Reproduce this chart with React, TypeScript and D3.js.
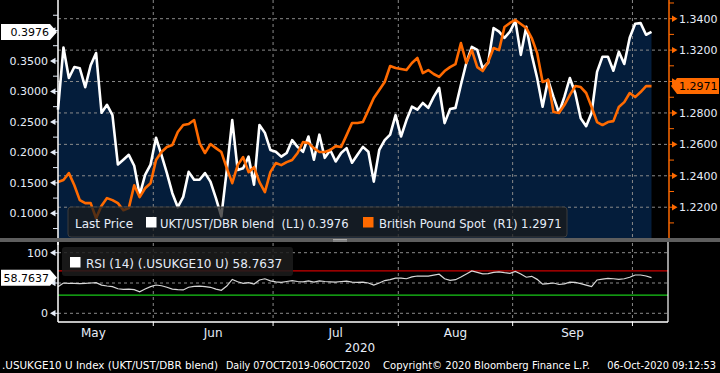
import React from 'react';
import * as d3 from 'd3';

// UKT/UST/DBR blend (L1)
const blendValues = [
  0.27, 0.372, 0.322, 0.34, 0.338, 0.307, 0.343, 0.363, 0.265, 0.278,
  0.261, 0.18, 0.188, 0.196, 0.178, 0.13, 0.163, 0.18, 0.224, 0.196,
  0.166, 0.133, 0.11, 0.127, 0.168, 0.155, 0.155, 0.166, 0.152, 0.125,
  0.095, 0.171, 0.253, 0.171, 0.174, 0.193, 0.147, 0.245, 0.232, 0.204,
  0.201, 0.193, 0.199, 0.22, 0.209, 0.201, 0.226, 0.188, 0.229, 0.191,
  0.204, 0.185, 0.199, 0.207, 0.183, 0.196, 0.209, 0.201, 0.152, 0.204,
  0.22, 0.229, 0.261, 0.226, 0.253, 0.275, 0.27, 0.281, 0.273, 0.291,
  0.306, 0.248, 0.271, 0.273, 0.311, 0.347, 0.373, 0.368, 0.338, 0.347,
  0.404, 0.398, 0.388, 0.398, 0.416, 0.36, 0.406, 0.36, 0.322, 0.275,
  0.319, 0.291, 0.265, 0.291, 0.322, 0.297, 0.256, 0.243, 0.265, 0.332,
  0.357, 0.357, 0.334, 0.365, 0.345, 0.388, 0.411, 0.412, 0.393, 0.3976,
];

// British Pound Spot (R1)
const gbpValues = [
  1.236, 1.2373, 1.2417, 1.234, 1.2245, 1.2226, 1.2226, 1.213, 1.221, 1.2258,
  1.2245, 1.2226, 1.2181, 1.2194, 1.234, 1.2264, 1.2321, 1.2353, 1.25, 1.2551,
  1.2583, 1.2596, 1.2679, 1.2723, 1.273, 1.2755, 1.2608, 1.2545, 1.2602, 1.2576,
  1.2551, 1.2449, 1.2353, 1.2468, 1.2519, 1.2423, 1.2455, 1.236, 1.2296, 1.2423,
  1.2481, 1.2468, 1.2487, 1.25, 1.2545, 1.2615, 1.2608, 1.2576, 1.2551, 1.2551,
  1.2564, 1.2589, 1.2583, 1.2659, 1.2736, 1.2736, 1.2742, 1.2818, 1.2895, 1.2946,
  1.2997, 1.3099, 1.3086, 1.308, 1.3073, 1.3118, 1.315, 1.3054, 1.3073, 1.3048,
  1.3029, 1.3067, 1.3092, 1.3111, 1.3245, 1.3118, 1.32, 1.3092, 1.3067, 1.3124,
  1.3213, 1.32, 1.3347, 1.3373, 1.3392, 1.3366, 1.3341, 1.3277, 1.3181, 1.2997,
  1.301, 1.2806, 1.28, 1.285, 1.2914, 1.2971, 1.2965, 1.2927, 1.2838, 1.2742,
  1.2723, 1.2742, 1.2748, 1.2838, 1.2869, 1.2927, 1.2901, 1.2933, 1.2971, 1.2971,
];

// RSI (14)
const rsiValues = [
  44, 50, 49.5, 49.5, 49, 49.5, 50, 50.5, 46.5, 45,
  44, 40.5, 39.6, 39.8, 39, 35.6, 40, 44, 46.7, 45.5,
  43, 40, 39, 38.5, 43, 44.5, 45, 44, 42.9, 40,
  38, 45, 56, 52, 49.5, 50.5, 48.3, 55, 57, 53.5,
  52, 51, 52.5, 54, 52.5, 52, 53.5, 51.5, 53.5, 52.5,
  52, 51.5, 52.5, 53, 51.5, 51, 51.5, 50, 46.5, 50,
  54, 55.5, 58, 58, 57, 60, 61.5, 61.5, 61.5, 63,
  64.5, 57, 54.5, 55.5, 60, 65, 70, 67.5, 65, 65.5,
  67.5, 68.5, 67, 66, 69, 65, 59.5, 61, 56, 48,
  49, 50, 47.5, 48.5, 51.5, 51, 49, 46.5, 44, 55,
  56.5, 57.5, 57, 56, 57, 59.5, 63.2, 63.2, 61.5, 58.7637,
];

const leftTicks = [0.1, 0.15, 0.2, 0.25, 0.3, 0.35, 0.4];
const rightTicks = [1.22, 1.24, 1.26, 1.28, 1.3, 1.32, 1.34];
const rsiTicks = [0, 50, 100];
const monthLabels = ['May', 'Jun', 'Jul', 'Aug', 'Sep'];

const W = 720;
const H = 373;
const FONT = 'DejaVu Sans, sans-serif';
const LABEL = '#e6edf8';
const ORANGE = '#ff6a00';
const NAVY = '#041d3b';
const GRID = '#8a8a8a';

const lastBlend = blendValues[blendValues.length - 1];
const lastGbp = gbpValues[gbpValues.length - 1];
const lastRsi = rsiValues[rsiValues.length - 1];

// business days 06 May 2020 .. 06 Oct 2020
const dates = d3.timeDay
  .range(new Date(2020, 4, 6), new Date(2020, 9, 7))
  .filter(d => d.getDay() !== 0 && d.getDay() !== 6);

const x = d3.scaleLinear().domain([0, dates.length - 1]).range([58, 651.5]);
const yL = d3.scaleLinear().domain([0.0595, 0.45]).range([238, 0]);
const yR = d3.scaleLinear().domain([1.2004, 1.3519]).range([238, 0]);
const yRsi = d3.scaleLinear().domain([0, 100]).range([313.3, 252.7]);

// month boundaries sit half way between last day of one month and first of next
const boundaries: number[] = [];
dates.forEach((d, i) => {
  if (i > 0 && d.getMonth() !== dates[i - 1].getMonth()) boundaries.push(i - 0.5);
});
const monthCenters = monthLabels.map((m, i) => {
  if (i === 0) return boundaries[0] - (boundaries[1] - boundaries[0]) / 2;
  return (boundaries[i - 1] + boundaries[i]) / 2;
});

// tick labels hidden behind the last-value tags are not drawn
const hidden = (py: number, tagY: number) => Math.abs(py - tagY) < 9;

const Arrow = ({ y, side, color }) => {
  if (side === 'left') {
    return <g>
      <line x1={52} x2={58} y1={y} y2={y} stroke={color} />
      <path d={`M50,${y} L55.5,${y - 3.2} L55.5,${y + 3.2} Z`} fill={color} />
    </g>;
  }
  return <g>
    <line x1={669} x2={675} y1={y} y2={y} stroke={color} />
    <path d={`M677.5,${y} L672,${y - 3.2} L672,${y + 3.2} Z`} fill={color} />
  </g>;
};

const ValueTag = ({ y, text, fill, side }) => {
  const h = 16;
  if (side === 'left') {
    return <g>
      <path d={`M1,${y - h / 2} L50,${y - h / 2} L57,${y} L50,${y + h / 2} L1,${y + h / 2} Z`} fill={fill} />
      <text x={49} y={y + 4} textAnchor="end" fill="#000" fontSize={11} fontFamily={FONT}>{text}</text>
    </g>;
  }
  return <g>
    <path d={`M671,${y} L677,${y - h / 2} L719,${y - h / 2} L719,${y + h / 2} L677,${y + h / 2} Z`} fill={fill} />
    <text x={679} y={y + 4} fill="#000" fontSize={11} fontFamily={FONT}>{text}</text>
  </g>;
};

const App = () => {
  const area = d3.area<number>().x((d, i) => x(i)).y0(238).y1(d => yL(d));
  const blendLine = d3.line<number>().x((d, i) => x(i)).y(d => yL(d));
  const gbpLine = d3.line<number>().x((d, i) => x(i)).y(d => yR(d));
  const rsiLine = d3.line<number>().x((d, i) => x(i)).y(d => yRsi(d));

  const leftMinor = d3.range(0.075, 0.45, 0.05);
  const rightMinor = d3.range(1.21, 1.351, 0.02);

  return (
    <svg width={W} height={H} style={{ position: 'absolute', left: 0, top: 0, background: '#000' }}>
      <rect width={W} height={H} fill="#000" />

      {/* main panel */}
      <path d={area(blendValues)} fill={NAVY} />
      {rightTicks.map(t => (
        <line key={'gh' + t} x1={58} x2={669} y1={yR(t)} y2={yR(t)} stroke={GRID} strokeDasharray="3,3" />
      ))}
      {boundaries.map(b => (
        <line key={'gv' + b} x1={x(b)} x2={x(b)} y1={0} y2={238} stroke={GRID} strokeDasharray="3,3" />
      ))}
      <path d={blendLine(blendValues)} fill="none" stroke="#fff" strokeWidth={2.6} strokeLinejoin="round" />
      <path d={gbpLine(gbpValues)} fill="none" stroke={ORANGE} strokeWidth={2.6} strokeLinejoin="round" />

      {/* left axis */}
      <line x1={58} x2={58} y1={0} y2={245} stroke="#fff" strokeWidth={1.5} />
      {leftMinor.map(t => <line key={'lm' + t} x1={53} x2={58} y1={yL(t)} y2={yL(t)} stroke={LABEL} />)}
      {leftTicks.map(t => (
        <g key={'lt' + t}>
          <Arrow y={yL(t)} side="left" color={LABEL} />
          {!hidden(yL(t), yL(lastBlend)) &&
            <text x={48} y={yL(t) + 4} textAnchor="end" fill={LABEL} fontSize={11} fontFamily={FONT}>{t.toFixed(4)}</text>}
        </g>
      ))}

      {/* right axis */}
      <line x1={669} x2={669} y1={0} y2={238} stroke={ORANGE} strokeWidth={1.5} />
      {rightMinor.map(t => <line key={'rm' + t} x1={669} x2={674} y1={yR(t)} y2={yR(t)} stroke={ORANGE} />)}
      {rightTicks.map(t => (
        <g key={'rt' + t}>
          <Arrow y={yR(t)} side="right" color={ORANGE} />
          {!hidden(yR(t), yR(lastGbp)) &&
            <text x={679} y={yR(t) + 4} fill={LABEL} fontSize={11} fontFamily={FONT}>{t.toFixed(4)}</text>}
        </g>
      ))}

      {/* legend */}
      <rect x={68} y={207} width={499} height={30} rx={3} fill="#1a1a1a" fillOpacity={0.72} stroke="#3c3c3c" />
      <text x={75} y={227.5} fill={LABEL} fontSize={12} fontFamily={FONT}>Last Price</text>
      <rect x={146} y={217} width={10.5} height={10.5} fill="#fff" />
      <text x={160} y={227.5} fill={LABEL} fontSize={11.6} fontFamily={FONT} xmlSpace="preserve">UKT/UST/DBR blend  (L1) 0.3976</text>
      <rect x={363} y={217} width={10.5} height={10.5} fill={ORANGE} />
      <text x={379} y={227.5} fill={LABEL} fontSize={11.6} fontFamily={FONT} xmlSpace="preserve">British Pound Spot  (R1) 1.2971</text>

      {/* panel separator */}
      <rect x={0} y={238} width={W} height={4} fill="#5e5e5e" />
      <line x1={333} x2={347} y1={239.5} y2={239.5} stroke="#bbb" strokeWidth={0.8} />
      <line x1={333} x2={347} y1={241} y2={241} stroke="#bbb" strokeWidth={0.8} />

      {/* RSI panel */}
      {rsiTicks.map(t => (
        <line key={'rg' + t} x1={58} x2={668} y1={yRsi(t)} y2={yRsi(t)} stroke={GRID} strokeDasharray="3,3" />
      ))}
      {boundaries.map(b => (
        <line key={'rv' + b} x1={x(b)} x2={x(b)} y1={243} y2={322} stroke={GRID} strokeDasharray="3,3" />
      ))}
      <line x1={58} x2={668} y1={yRsi(70)} y2={yRsi(70)} stroke="#cc0000" strokeWidth={1.3} />
      <line x1={58} x2={668} y1={yRsi(30)} y2={yRsi(30)} stroke="#19c819" strokeWidth={1.3} />
      <path d={rsiLine(rsiValues)} fill="none" stroke="#d8d8d8" strokeWidth={1.2} />
      <line x1={58} x2={58} y1={242} y2={322} stroke="#fff" strokeWidth={1.5} />
      <line x1={58} x2={668} y1={322} y2={322} stroke="#fff" strokeWidth={1.5} />
      <line x1={668} x2={668} y1={242} y2={322} stroke="#fff" strokeWidth={1.2} />
      {boundaries.map(b => (
        <line key={'bt' + b} x1={x(b)} x2={x(b)} y1={322} y2={326} stroke="#fff" />
      ))}
      {rsiTicks.map(t => (
        <g key={'rl' + t}>
          <Arrow y={yRsi(t)} side="left" color={LABEL} />
          {!hidden(yRsi(t), yRsi(lastRsi)) &&
            <text x={48} y={yRsi(t) + 4} textAnchor="end" fill={LABEL} fontSize={11} fontFamily={FONT}>{t}</text>}
        </g>
      ))}
      <rect x={62} y={247} width={231} height={29} rx={3} fill="#1c1c1c" fillOpacity={0.85} />
      <rect x={70} y={257} width={10.5} height={10.5} fill="#fff" />
      <text x={86} y={267.5} fill={LABEL} fontSize={12} fontFamily={FONT}>RSI (14) (.USUKGE10 U) 58.7637</text>

      {/* value tags */}
      <ValueTag y={yL(lastBlend)} text={lastBlend.toFixed(4)} fill="#fff" side="left" />
      <ValueTag y={yR(lastGbp)} text={lastGbp.toFixed(4)} fill={ORANGE} side="right" />
      <ValueTag y={yRsi(lastRsi)} text={lastRsi.toFixed(4)} fill="#fff" side="left" />

      {/* x axis */}
      {monthLabels.map((m, i) => (
        <text key={m} x={x(monthCenters[i])} y={337} textAnchor="middle" fill={LABEL} fontSize={12} fontFamily={FONT}>{m}</text>
      ))}
      <text x={360} y={352} textAnchor="middle" fill={LABEL} fontSize={12} fontFamily={FONT}>2020</text>

      {/* footer */}
      <g fill="#fff" fontSize={11} fontFamily={FONT}>
        <text x={2} y={369} textLength={216} lengthAdjust="spacingAndGlyphs">.USUKGE10 U Index (UKT/UST/DBR blend)</text>
        <text x={226} y={369} textLength={144} lengthAdjust="spacingAndGlyphs">Daily 07OCT2019-06OCT2020</text>
        <text x={383} y={369} textLength={207} lengthAdjust="spacingAndGlyphs">Copyright© 2020 Bloomberg Finance L.P.</text>
        <text x={716} y={369} textAnchor="end" fontSize={9.8}>06-Oct-2020 09:12:53</text>
      </g>
    </svg>
  );
};

export default App;
